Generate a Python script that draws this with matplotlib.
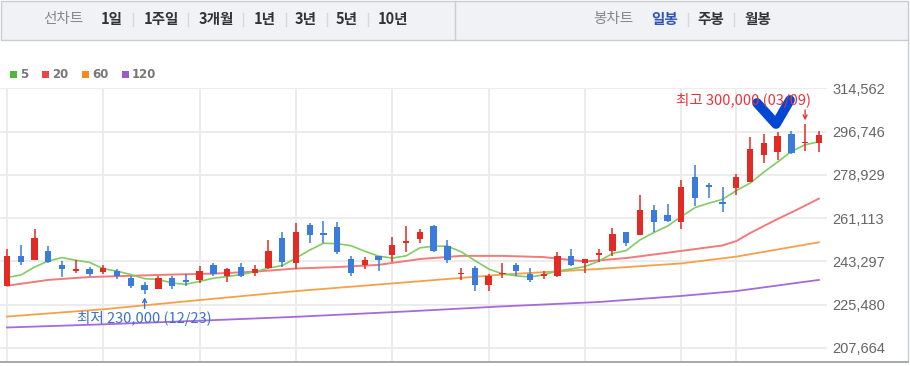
import matplotlib.pyplot as plt
from matplotlib.patches import Rectangle
import numpy as np

KR = ['Noto Sans CJK KR', 'DejaVu Sans']
plt.rcParams['font.family'] = KR

# --- daily candles (KRW) ---
opens = [233000, 245500, 244000, 247500, 242000, 239500, 240000, 239000, 239500, 236500,
         233500, 232000, 236500, 235500, 235500, 242000, 237500, 241000, 238500, 240500,
         253000, 242500, 258500, 255000, 257500, 244500, 242000, 245500, 246000, 251000,
         252500, 258000, 249500, 238000, 240500, 233500, 238000, 242000, 238000, 237500,
         237500, 245500, 242500, 246000, 247500, 255500, 254000, 264500, 262500, 259500,
         278000, 274500, 267500, 273500, 276000, 287000, 288500, 296000, 292000, 292000]
highs = [248500, 250000, 256500, 249500, 243500, 244000, 241000, 242000, 240000, 237500,
         235000, 237500, 237500, 238000, 241500, 242500, 240500, 242500, 242000, 252000,
         255500, 259000, 259000, 260000, 259500, 245500, 245000, 245500, 253500, 258000,
         256500, 258500, 252000, 240500, 241500, 238000, 242500, 242500, 240500, 239500,
         247000, 248500, 244500, 248500, 257000, 255500, 270500, 266500, 267000, 277000,
         283000, 275500, 274000, 279500, 294500, 296000, 296500, 297000, 300000, 297000]
lows = [233000, 242000, 244000, 242500, 237000, 238500, 237500, 238000, 236000, 232500,
        230000, 232000, 232000, 233000, 234500, 237500, 235000, 237000, 237500, 240000,
        241000, 240000, 251000, 251000, 246500, 237500, 240000, 239500, 243000, 247000,
        251000, 247000, 242500, 235500, 231000, 231000, 236500, 237500, 235000, 236000,
        237000, 241500, 238500, 243000, 245500, 249500, 254000, 255500, 259500, 256500,
        266000, 269500, 263500, 270500, 276000, 284000, 285000, 287500, 289000, 288500]
closes = [245500, 243000, 253000, 243000, 240000, 240000, 238000, 240500, 237500, 233000,
          231500, 236500, 233000, 235000, 239500, 238000, 240000, 237500, 240000, 247500,
          243000, 255500, 254000, 254000, 247000, 238500, 244000, 244000, 250000, 251500,
          255500, 247500, 244000, 238500, 233500, 237500, 238500, 239500, 235500, 238000,
          245500, 242000, 244500, 246500, 254500, 251000, 264500, 259500, 260000, 274000,
          269500, 274000, 267000, 278000, 289500, 292000, 295000, 288000, 292500, 295500]

# --- moving averages ---
ma5 = [236700, 237700, 241000, 243500, 244900, 243800, 242900, 240300, 239300, 237900,
       236200, 235900, 234400, 233900, 235100, 236400, 237100, 237900, 239000, 240600,
       241600, 244700, 248000, 250800, 250600, 249800, 247500, 245500, 244700, 245600,
       248900, 249600, 249600, 247300, 243700, 240200, 238200, 237400, 236900, 237800,
       239400, 240200, 241200, 243400, 246600, 247800, 252200, 255200, 257900, 261800,
       265500, 267300, 268900, 272500, 275600, 280100, 284300, 288600, 291400, 292600]
ma20_days = [0, 3, 6, 9, 12, 15, 18, 21, 24, 27, 30, 33, 36, 39, 42, 45, 48, 50, 52, 53,
             54, 55, 56, 57, 58, 59]
ma20 = [233300, 235700, 236900, 237400, 237900, 238300, 239100, 240400, 241000, 241900,
        244300, 245600, 245600, 245100, 243300, 244700, 246900, 248400, 249900, 251700,
        255000, 257900, 260800, 263500, 266300, 269200]
ma60_days = [0, 7, 14, 21, 29, 36, 43, 49, 53, 59]
ma60 = [220600, 223600, 227400, 231100, 234700, 237900, 240200, 242500, 245300, 251200]
ma120_days = [0, 7, 14, 21, 29, 36, 43, 49, 53, 59]
ma120 = [216100, 217400, 218900, 220500, 222700, 224800, 226600, 229100, 231100, 235700]

y_ticks = [207664, 225480, 243297, 261113, 278929, 296746, 314562]
vgrid_days = [0, 7, 14, 21, 28, 35, 42, 49, 53]
hi_day, lo_day = 58, 10
hi_date, lo_date = '03/09', '12/23'

UP, DOWN = '#e12b24', '#3a7bdb'
HI_COL, LO_COL = '#e8343b', '#3b6fd6'

fig = plt.figure(figsize=(9.1, 3.66), dpi=100)

# pixel-coordinate overlay for header / frame
bg = fig.add_axes([0, 0, 1, 1])
bg.set_xlim(0, 910)
bg.set_ylim(366, 0)
bg.axis('off')
bg.add_patch(Rectangle((0.5, 1), 907.5, 39, facecolor='#f1f2f6', edgecolor='#c9ccd3', lw=1))
bg.plot([455, 455], [1, 40], color='#c9ccd3', lw=1)
bg.plot([908, 908], [40, 361], color='#c9ccd3', lw=1)
bg.plot([0, 908], [361.5, 361.5], color='#9a9a9a', lw=1.2)

menu = [('선차트', 63, '#888888', 'normal'), ('1일', 112, '#333333', 'bold'),
        ('1주일', 161, '#333333', 'bold'), ('3개월', 216, '#333333', 'bold'),
        ('1년', 265, '#333333', 'bold'), ('3년', 306, '#333333', 'bold'),
        ('5년', 347, '#333333', 'bold'), ('10년', 393, '#333333', 'bold'),
        ('봉차트', 613, '#888888', 'normal'), ('일봉', 665, '#2f55b8', 'bold'),
        ('주봉', 711, '#333333', 'bold'), ('월봉', 758, '#333333', 'bold')]
for label, x, col, w in menu:
    bg.text(x, 19, label, ha='center', va='center', fontsize=10.5, color=col, fontweight=w)
for x in [133, 188, 243, 286, 327, 368, 688, 734]:
    bg.plot([x, x], [13, 26], color='#d6d8de', lw=1)

# legend
for lab, x, col in [('5', 10, '#4cbb3a'), ('20', 42, '#ef4444'), ('60', 82, '#f7891e'), ('120', 122, '#9b59d0')]:
    bg.add_patch(Rectangle((x, 70.5), 7, 7, facecolor=col, edgecolor='none'))
    bg.text(x + 10, 74.5, lab, ha='left', va='center', fontsize=8.5, color='#777777',
            fontweight='bold', family='DejaVu Sans')

# hand-drawn check mark overlay
bg.plot([757, 776, 790], [103, 124, 100], color='#0047d4', lw=7,
        solid_capstyle='round', solid_joinstyle='round', zorder=10)

# --- chart ---
ax = fig.add_axes([0, 5 / 366, 827 / 910, 273 / 366])
ax.set_facecolor('none')
days = np.arange(len(opens))
o, h, l, c = map(np.array, (opens, highs, lows, closes))
cols = np.where(c >= o, UP, DOWN)

ax.plot(ma120_days, ma120, color='#a46bd9', lw=1.3, zorder=2)
ax.plot(ma60_days, ma60, color='#f7a04a', lw=1.3, zorder=2)
ax.plot(ma20_days, ma20, color='#f27a7a', lw=1.4, zorder=2)
ax.plot(days, ma5, color='#82cc66', lw=1.2, zorder=2)

ax.vlines(days, l, h, colors=cols, lw=1.1, zorder=3)
body = np.maximum(np.abs(c - o), 600)
ax.bar(days, body, bottom=np.minimum(o, c), width=0.46, color=cols, zorder=3)

# high / low markers
ax.annotate('', xy=(hi_day, highs[hi_day]), xytext=(0, 10), textcoords='offset points',
            arrowprops=dict(arrowstyle='->', color=HI_COL, lw=1, mutation_scale=7,
                            shrinkA=0, shrinkB=2.5))
ax.annotate(f'최고 {highs[hi_day]:,} ({hi_date})', xy=(hi_day, highs[hi_day]), xytext=(4.5, 17),
            textcoords='offset points', ha='right', va='center', fontsize=10.5, color=HI_COL)
ax.annotate('', xy=(lo_day, lows[lo_day]), xytext=(0, -10.5), textcoords='offset points',
            arrowprops=dict(arrowstyle='->', color=LO_COL, lw=1, mutation_scale=7,
                            shrinkA=0, shrinkB=2.5))
ax.annotate(f'최저 {lows[lo_day]:,} ({lo_date})', xy=(lo_day, lows[lo_day]), xytext=(0, -17.5),
            textcoords='offset points', ha='center', va='center', fontsize=10.5, color=LO_COL)

ax.set_xlim(-0.509, 59.59)
ax.set_ylim(202292, 314768)
ax.set_yticks(y_ticks)
ax.set_yticklabels([f'{v:,}' for v in y_ticks], family='Liberation Sans', fontsize=10.5, color='#666666')
ax.yaxis.tick_right()
ax.set_xticks(vgrid_days)
ax.tick_params(axis='x', length=0, labelbottom=False)
ax.tick_params(axis='y', length=0, pad=4)
ax.grid(True, color='#ebebeb', lw=1.3, zorder=0)
ax.set_axisbelow(True)
for s in ax.spines.values():
    s.set_visible(False)

fig.savefig('out.png', dpi=100)
